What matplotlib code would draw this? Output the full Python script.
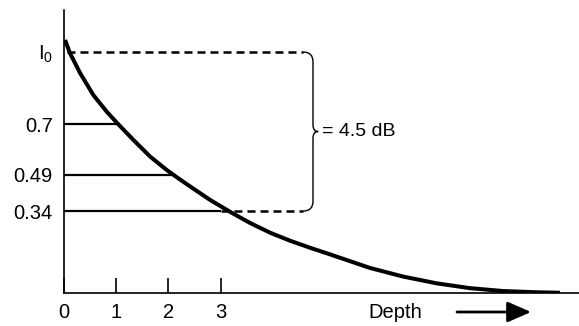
import matplotlib
matplotlib.use("Agg")
import matplotlib.pyplot as plt
from matplotlib.path import Path
from matplotlib.patches import PathPatch, FancyArrowPatch

plt.rcParams['font.family'] = ['Liberation Sans', 'DejaVu Sans']
plt.rcParams['mathtext.fontset'] = 'custom'
plt.rcParams['mathtext.rm'] = 'Liberation Sans'

# Attenuation curve (depth units, relative intensity)
depth = [0.02, 0.115, 0.31, 0.56, 0.82, 1.01, 1.33, 1.65, 1.97, 2.19, 2.41, 2.80,
         3.18, 3.56, 3.95, 4.33, 4.71, 5.10, 5.86, 6.50, 7.14, 7.78, 8.42,
         9.06, 9.50]
intensity = [1.050, 0.995, 0.912, 0.822, 0.752, 0.707, 0.635, 0.566, 0.510, 0.476,
             0.443, 0.386, 0.337, 0.291, 0.250, 0.217, 0.188, 0.160, 0.104,
             0.068, 0.040, 0.020, 0.008, 0.003, 0.001]

# Reference levels
levels = [1.0, 0.7, 0.49, 0.34]
level_labels = [r'$\mathregular{I_0}$', '0.7', '0.49', '0.34']
level_ends = [0.0, 1.0, 2.08, 3.0]        # where the solid part of each level line ends
x_ticks = [0, 1, 2, 3]
x_tick_labels = ['0', '1', '2', '3']
brace_text = '= 4.5 dB'
x_label = 'Depth'

W, H = 579, 326
fig = plt.figure(figsize=(W / 100, H / 100), dpi=100)
px_x, px_y = 52.2, 241.0
x0, y0 = 64, 293
xmax, ymax = 9.87, 1.174
ax = fig.add_axes([x0 / W, (H - y0) / H, xmax * px_x / W, ymax * px_y / H])
ax.set_xlim(0, xmax)
ax.set_ylim(0, ymax)
for s in ['top', 'right']:
    ax.spines[s].set_visible(False)
for s in ['left', 'bottom']:
    ax.spines[s].set_linewidth(1.2)

ax.plot(depth, intensity, color='black', lw=2.9, solid_capstyle='butt',
        solid_joinstyle='round', zorder=3)

# solid level lines
for lv, end in zip(levels, level_ends):
    if end > 0:
        ax.plot([0, end], [lv, lv], color='black', lw=1.6, solid_capstyle='butt')

# dashed lines to the brace
bx = 4.77
dash_end = 4.58
ax.plot([0.05, dash_end], [levels[0], levels[0]], color='black', lw=1.8, dashes=(3.2, 2.0))
ax.plot([level_ends[-1], dash_end], [levels[-1], levels[-1]], color='black', lw=1.8, dashes=(3.2, 2.0))

# brace
top, bot = levels[0], levels[-1]
mid = (top + bot) / 2
r = 0.04
verts = [(dash_end, top), (bx, top), (bx, top - r),
         (bx, mid + r * 0.7), (bx, mid), (bx + 0.1, mid),
         (bx, mid), (bx, mid - r * 0.7),
         (bx, bot + r), (bx, bot), (dash_end, bot)]
codes = [Path.MOVETO, Path.CURVE3, Path.CURVE3,
         Path.LINETO, Path.CURVE3, Path.CURVE3,
         Path.CURVE3, Path.CURVE3,
         Path.LINETO, Path.CURVE3, Path.CURVE3]
ax.add_patch(PathPatch(Path(verts, codes), fill=False, lw=1.0, color='black'))
ax.text(bx + 0.17, mid, brace_text, fontsize=14, va='center', ha='left')

ax.set_yticks(levels)
ax.set_yticklabels(level_labels)
ax.set_xticks(x_ticks)
ax.set_xticklabels(x_tick_labels)
ax.tick_params(axis='y', length=0, pad=8, labelsize=14.5)
ax.tick_params(axis='x', direction='in', length=10.5, width=1.2, pad=7, labelsize=14.5)

fig.text(395 / W, 1 - 313 / H, x_label, fontsize=14.5, ha='center', va='center')
fig.patches.append(FancyArrowPatch(
    (457 / W, 1 - 312 / H), (531 / W, 1 - 312 / H), transform=fig.transFigure,
    arrowstyle='-|>,head_length=0.8,head_width=0.35', mutation_scale=18,
    lw=2.0, color='black', shrinkA=0, shrinkB=0))

fig.savefig('out.png', dpi=100)
